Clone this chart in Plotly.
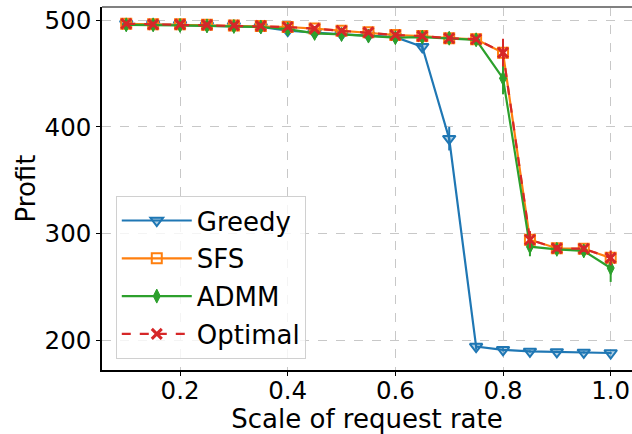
import plotly.graph_objects as go

scale = [0.1, 0.15, 0.2, 0.25, 0.3, 0.35, 0.4, 0.45, 0.5, 0.55,
         0.6, 0.65, 0.7, 0.75, 0.8, 0.85, 0.9, 0.95, 1.0]

greedy = [496.5, 496, 495.5, 495, 494.5, 493.5, 490, 488, 486.5, 485.5,
          484, 475, 389, 194.5, 191.5, 190, 189.5, 189, 188.5]
greedy_err = [1.5, 1.5, 1.5, 1.5, 1.5, 1.5, 2, 2, 2, 2,
              2, 5, 11, 3, 1.5, 1, 1, 1, 1]

sfs = [496.5, 496, 496, 495.5, 495, 494.5, 493.5, 492, 490, 488.5,
       486, 485, 483, 482, 469.5, 294.5, 286.5, 286, 277.5]
sfs_err = [1.5, 1.5, 1.5, 1.5, 1.5, 1.5, 2, 2, 2, 2,
           2, 2, 2, 2, 12, 8, 3, 3, 6]

admm = [495.5, 495.5, 495, 494.5, 494, 493.5, 491.5, 487.5, 486.5, 485,
        483.5, 484, 483, 481.5, 445.5, 288, 285.5, 284, 268]
admm_err = [3, 3, 3, 3, 3, 3, 3, 3, 3, 3,
            3, 3, 3, 3, 15, 9, 3, 4, 13]

optimal = [496.5, 496, 496, 495.5, 495, 494.5, 493.5, 492, 490, 488.5,
           486, 485, 483, 482, 469.5, 294.5, 286.5, 286, 277.5]
optimal_err = [1.5, 1.5, 1.5, 1.5, 1.5, 1.5, 2, 2, 2, 2,
               2, 2, 2, 2, 13, 8, 3, 3, 7]

names = ["Greedy", "SFS", "ADMM", "Optimal"]
colors = ["#1f77b4", "#ff7f0e", "#2ca02c", "#d62728"]
xticks = [0.2, 0.4, 0.6, 0.8, 1.0]
yticks = [200, 300, 400, 500]

FONT = "DejaVu Sans"

fig = go.Figure()

series = [
    (greedy, greedy_err, dict(symbol="triangle-down", size=11, color="rgba(31,119,180,0.35)",
                              line=dict(color=colors[0], width=2)), "solid"),
    (sfs, sfs_err, dict(symbol="square-open", size=10, color=colors[1],
                        line=dict(color=colors[1], width=2)), "solid"),
    (admm, admm_err, dict(symbol="diamond-tall", size=10, color=colors[2],
                          line=dict(color=colors[2], width=1)), "solid"),
    (optimal, optimal_err, dict(symbol="x-thin-open", size=10, color=colors[3],
                                line=dict(color=colors[3], width=3)), "dash"),
]

for i, (vals, err, marker, dash) in enumerate(series):
    fig.add_trace(go.Scatter(
        x=scale, y=vals, name=names[i], mode="lines+markers",
        line=dict(color=colors[i], width=2.2, dash=dash),
        marker=marker,
        error_y=dict(type="data", array=err, visible=True, color=colors[i],
                     thickness=2, width=0),
        legendgroup=names[i],
    ))

fig.add_shape(type="line", xref="paper", yref="paper", x0=0, x1=1, y0=1, y1=1,
              line=dict(color="#808080", width=2))

fig.update_layout(
    width=632, height=434,
    margin=dict(l=102, r=0, t=7, b=64),
    paper_bgcolor="white", plot_bgcolor="white",
    font=dict(family=FONT, size=24, color="black"),
    showlegend=True,
    legend=dict(
        x=0.026, y=0.479, xanchor="left", yanchor="top",
        bgcolor="rgba(255,255,255,0.8)", bordercolor="#d0d0d0", borderwidth=1,
        font=dict(family=FONT, size=26, color="black"),
        traceorder="grouped", tracegroupgap=1, itemwidth=70,
    ),
    xaxis=dict(
        range=[0.055, 1.0396], tickvals=xticks, ticktext=["0.2", "0.4", "0.6", "0.8", "1.0"],
        showgrid=True, gridcolor="#c8c8c8", griddash="dash", gridwidth=1,
        showline=True, linecolor="black", linewidth=1.5,
        ticks="outside", ticklen=4, tickcolor="black",
        zeroline=False, automargin=False, ticklabelstandoff=-6,
        title=dict(text="Scale of request rate", font=dict(family=FONT, size=26), standoff=6),
        tickfont=dict(family=FONT, size=24.5),
    ),
    yaxis=dict(
        range=[172.6, 512.2], tickvals=yticks,
        showgrid=True, gridcolor="#c8c8c8", griddash="dash", gridwidth=1,
        showline=True, linecolor="black", linewidth=1.5,
        ticks="outside", ticklen=4, tickcolor="black",
        zeroline=False, automargin=False,
        title=dict(text="Profit", font=dict(family=FONT, size=26), standoff=1),
        tickfont=dict(family=FONT, size=24.5),
    ),
)

fig.write_html("out.html", config={"displayModeBar": False},
               post_script="document.body.style.margin='0';document.body.style.overflow='hidden';")
